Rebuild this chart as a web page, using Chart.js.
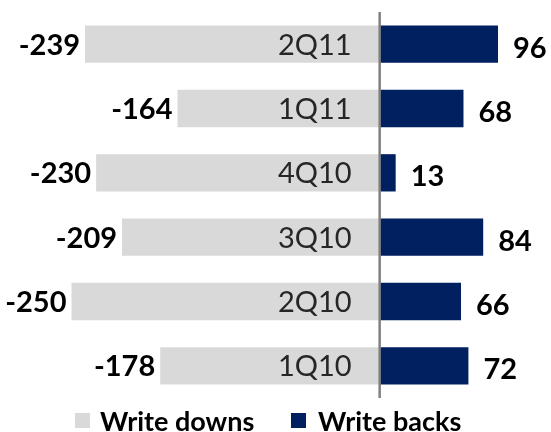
<!DOCTYPE html>
<html>
<head>
<meta charset="utf-8">
<script src="https://cdn.jsdelivr.net/npm/chart.js@4"></script>
<style>
  html, body { margin: 0; padding: 0; background: #fff; }
  #wrap { width: 551px; height: 432px; }
</style>
</head>
<body>
<div id="wrap"><canvas id="chart"></canvas></div>
<script>
// data
const quarters = ["2Q11", "1Q11", "4Q10", "3Q10", "2Q10", "1Q10"];
const writeDowns = [-239, -164, -230, -209, -250, -178];
const writeBacks = [96, 68, 13, 84, 66, 72];

const FONT = "Lato, 'Open Sans', sans-serif";

// zero line, value labels, legend
const labelPlugin = {
  id: "labels",
  afterDatasetsDraw(chart) {
    const ctx = chart.ctx;
    const x = chart.scales.x;
    const area = chart.chartArea;
    const zero = x.getPixelForValue(0);

    ctx.save();
    ctx.strokeStyle = "#808080";
    ctx.lineWidth = 2.5;
    ctx.beginPath();
    ctx.moveTo(zero, area.top);
    ctx.lineTo(zero, area.bottom);
    ctx.stroke();

    ctx.textBaseline = "middle";
    chart.getDatasetMeta(0).data.forEach((bar, i) => {
      ctx.fillStyle = "#000";
      ctx.font = "bold 29px " + FONT;
      ctx.textAlign = "right";
      ctx.fillText(writeDowns[i], bar.x - 5, bar.y + 1);
      ctx.fillStyle = "#262626";
      ctx.font = "29px " + FONT;
      ctx.fillText(quarters[i], zero - 28, bar.y + 1);
    });
    chart.getDatasetMeta(1).data.forEach((bar, i) => {
      ctx.fillStyle = "#000";
      ctx.font = "bold 29px " + FONT;
      ctx.textAlign = "left";
      ctx.fillText(writeBacks[i], bar.x + 15, bar.y + 4);
    });

    // legend
    const items = [[75, 100], [291, 318]];
    ctx.textBaseline = "alphabetic";
    ctx.font = "bold 27px " + FONT;
    chart.data.datasets.forEach((ds, i) => {
      ctx.fillStyle = ds.backgroundColor;
      ctx.fillRect(items[i][0], 413, 15, 15);
      ctx.fillStyle = "#000";
      ctx.fillText(ds.label, items[i][1], 431);
    });
    ctx.restore();
  }
};

new Chart(document.getElementById("chart"), {
  type: "bar",
  data: {
    labels: quarters,
    datasets: [
      {
        label: "Write downs",
        data: writeDowns,
        backgroundColor: "#D9D9D9",
        categoryPercentage: 1,
        barPercentage: 0.58
      },
      {
        label: "Write backs",
        data: writeBacks,
        backgroundColor: "#002060",
        categoryPercentage: 1,
        barPercentage: 0.58
      }
    ]
  },
  options: {
    indexAxis: "y",
    responsive: true,
    maintainAspectRatio: false,
    animation: false,
    layout: { padding: { top: 12, left: 0, right: 0, bottom: 34 } },
    scales: {
      x: { stacked: true, display: false, min: -308, max: 139 },
      y: { stacked: true, display: false }
    },
    plugins: {
      tooltip: { enabled: false },
      legend: { display: false }
    }
  },
  plugins: [labelPlugin]
});
</script>
</body>
</html>
